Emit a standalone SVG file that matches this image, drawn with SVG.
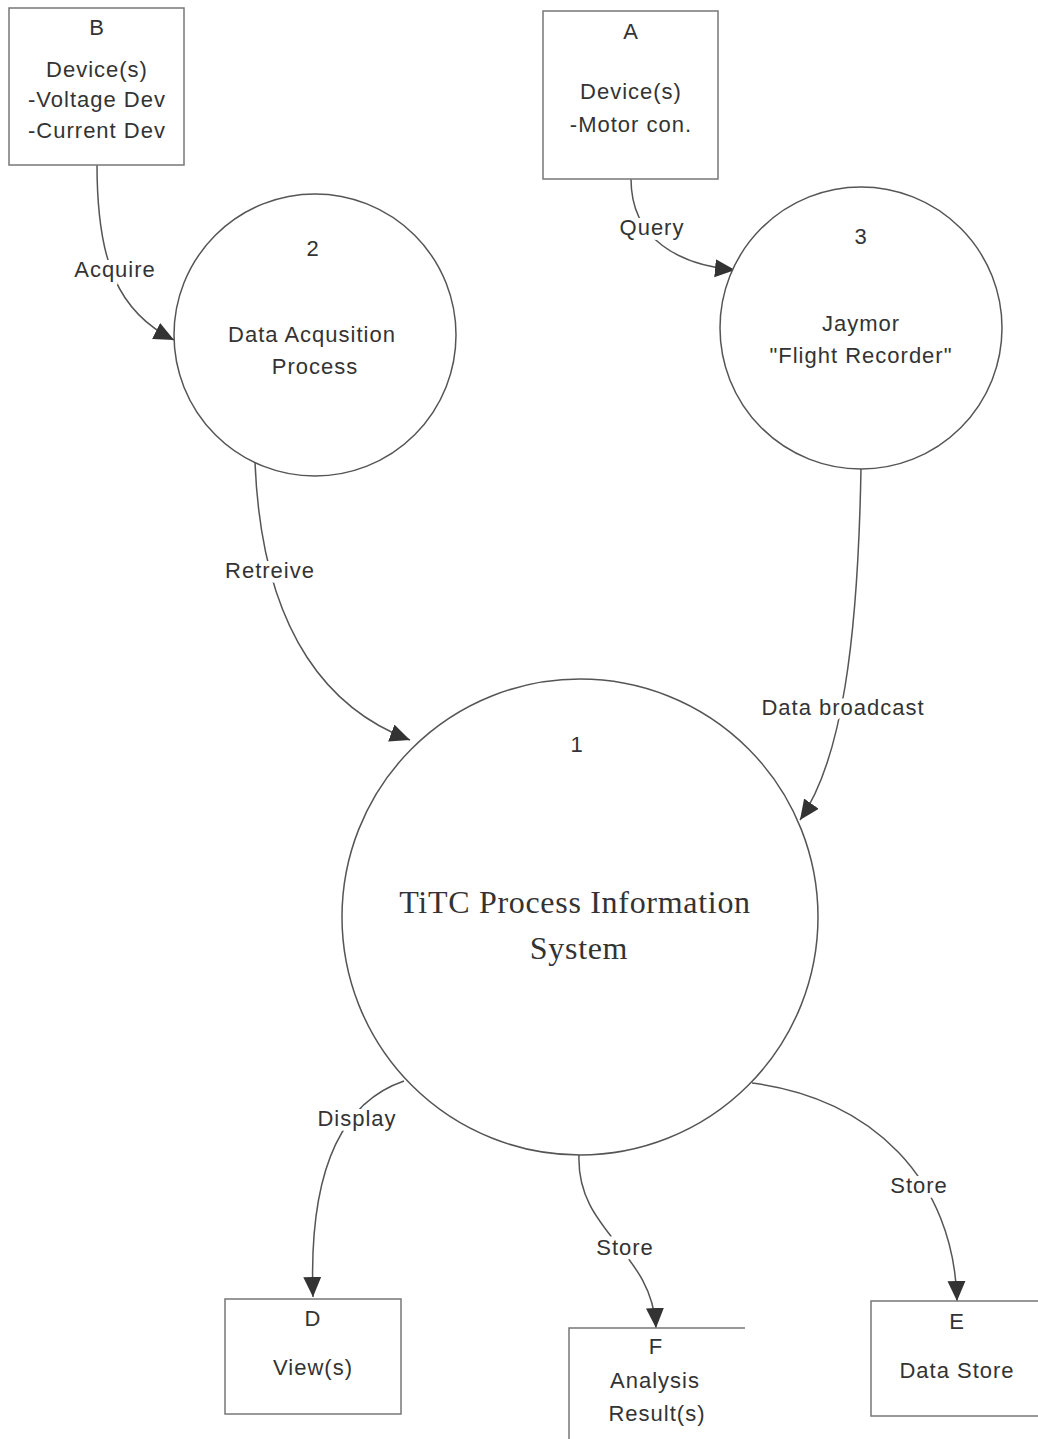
<svg xmlns="http://www.w3.org/2000/svg" width="1038" height="1439" viewBox="0 0 1038 1439">
<style>
.box{fill:#fff;stroke:#777;stroke-width:1.5}
.circ{fill:#fff;stroke:#555;stroke-width:1.5}
.t{font-family:"Liberation Sans",Arial,sans-serif;font-size:22px;letter-spacing:1px;fill:#333;text-anchor:middle}
.big{font-family:"Liberation Serif","Times New Roman",serif;font-size:32px;letter-spacing:0.7px;fill:#333;text-anchor:middle}
.conn{fill:none;stroke:#555;stroke-width:1.5;marker-end:url(#arr)}
.lbl{font-family:"Liberation Sans",Arial,sans-serif;font-size:22px;letter-spacing:1px;fill:#333;text-anchor:middle;stroke:#fff;stroke-width:10;paint-order:stroke;stroke-linejoin:round}
</style>
<defs>
<marker id="arr" markerUnits="userSpaceOnUse" markerWidth="22" markerHeight="20" refX="20" refY="9" orient="auto">
<path d="M0,0 L20,9 L0,18 Z" fill="#333"/>
</marker>
</defs>
<rect width="1038" height="1439" fill="#fff"/>

<g id="connectors">
<path class="conn" d="M97,165 C97,262 118,312 174,340"/>
<path class="conn" d="M631,179 C631,240 680,265 735,270"/>
<path class="conn" d="M255,462 C262,640 335,712 410,740"/>
<path class="conn" d="M861,468 C858,640 842,760 800,820"/>
<path class="conn" d="M404,1081 C348,1100 308,1160 313,1297"/>
<path class="conn" d="M579,1155 C576,1232 652,1250 656,1328"/>
<path class="conn" d="M752,1083 C872,1098 954,1180 957,1301"/>
<text class="lbl" x="115" y="277">Acquire</text>
<text class="lbl" x="652" y="235">Query</text>
<text class="lbl" x="270" y="578">Retreive</text>
<text class="lbl" x="843" y="715">Data broadcast</text>
<text class="lbl" x="357" y="1126">Display</text>
<text class="lbl" x="625" y="1255">Store</text>
<text class="lbl" x="919" y="1193">Store</text>
</g>

<g id="nodeB">
<rect class="box" x="9" y="8" width="175" height="157"/>
<text class="t" x="97" y="35">B</text>
<text class="t" x="97" y="77">Device(s)</text>
<text class="t" x="97" y="107">-Voltage Dev</text>
<text class="t" x="97" y="138">-Current Dev</text>
</g>

<g id="nodeA">
<rect class="box" x="543" y="11" width="175" height="168"/>
<text class="t" x="631" y="39">A</text>
<text class="t" x="631" y="99">Device(s)</text>
<text class="t" x="631" y="132">-Motor con.</text>
</g>

<g id="node2">
<circle class="circ" cx="315" cy="335" r="141"/>
<text class="t" x="313" y="256">2</text>
<text class="t" x="312" y="342">Data Acqusition</text>
<text class="t" x="315" y="374">Process</text>
</g>

<g id="node3">
<circle class="circ" cx="861" cy="328" r="141"/>
<text class="t" x="861" y="244">3</text>
<text class="t" x="861" y="331">Jaymor</text>
<text class="t" x="861" y="363">"Flight Recorder"</text>
</g>

<g id="node1">
<circle class="circ" cx="580" cy="917" r="238"/>
<text class="t" x="577" y="752">1</text>
<text class="big" x="575" y="913">TiTC Process Information</text>
<text class="big" x="579" y="959">System</text>
</g>

<g id="nodeD">
<rect class="box" x="225" y="1299" width="176" height="115"/>
<text class="t" x="313" y="1326">D</text>
<text class="t" x="313" y="1375">View(s)</text>
</g>

<g id="nodeF">
<path class="box" d="M745,1328 H569 V1439" fill="none"/>
<text class="t" x="656" y="1354">F</text>
<text class="t" x="655" y="1388">Analysis</text>
<text class="t" x="657" y="1421">Result(s)</text>
</g>

<g id="nodeE">
<path class="box" d="M1040,1301 H871 V1416 H1040"/>
<text class="t" x="957" y="1329">E</text>
<text class="t" x="957" y="1378">Data Store</text>
</g>
</svg>
